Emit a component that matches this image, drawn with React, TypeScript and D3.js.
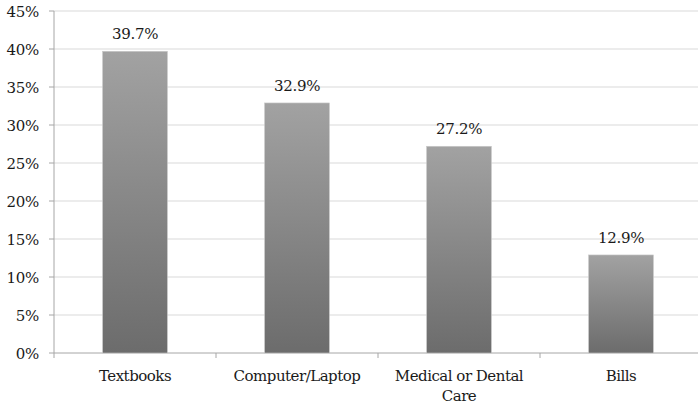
import React from "react";
import * as d3 from "d3";

const categories = ["Textbooks", "Computer/Laptop", "Medical or Dental Care", "Bills"];
const values = [39.7, 32.9, 27.2, 12.9];
const yTicks = [0, 5, 10, 15, 20, 25, 30, 35, 40, 45];
const categoryLines: Record<string, string[]> = {
  "Medical or Dental Care": ["Medical or Dental", "Care"],
};

const W = 698;
const H = 407;
const FONT = "'DejaVu Serif', serif";

export default function App() {
  const x = d3.scaleBand<string>().domain(categories).range([54, 702]).paddingInner(0).paddingOuter(0);
  const y = d3.scaleLinear().domain([0, 45]).range([353, 11]);
  const barW = x.bandwidth() * 0.4;
  const boundaries = d3.range(categories.length + 1).map((i) => 54 + i * x.bandwidth());

  return (
    <svg width={W} height={H} style={{ position: "absolute", left: 0, top: 0, background: "#fff" }}>
      <defs>
        <linearGradient id="barFill" x1="0" y1="0" x2="0" y2="1">
          <stop offset="0%" stopColor="#a2a2a2" />
          <stop offset="100%" stopColor="#6c6c6c" />
        </linearGradient>
      </defs>
      {yTicks.map((t) => (
        <g key={t}>
          {t > 0 && <line x1={54} x2={W} y1={y(t)} y2={y(t)} stroke="#d9d9d9" strokeWidth={1} />}
          <line x1={49} x2={54} y1={y(t)} y2={y(t)} stroke="#a6a6a6" strokeWidth={1} />
          <text x={39} y={y(t) + 5.5} textAnchor="end" fontFamily={FONT} fontSize={15} letterSpacing={-0.3} fill="#1a1a1a">
            {t}%
          </text>
        </g>
      ))}
      <line x1={54} x2={54} y1={y(45)} y2={y(0)} stroke="#a6a6a6" strokeWidth={1} />
      <line x1={54} x2={W} y1={y(0)} y2={y(0)} stroke="#a6a6a6" strokeWidth={1} />
      {boundaries.map((b, i) => (
        <line key={i} x1={b} x2={b} y1={y(0)} y2={y(0) + 5} stroke="#a6a6a6" strokeWidth={1} />
      ))}
      {categories.map((c, i) => {
        const cx = (x(c) as number) + x.bandwidth() / 2;
        const top = y(values[i]);
        const lines = categoryLines[c] ?? [c];
        return (
          <g key={c}>
            <rect
              x={cx - barW / 2}
              y={top}
              width={barW}
              height={y(0) - top}
              fill="url(#barFill)"
              stroke="#c8c8c8"
              strokeWidth={0.6}
            />
            <text x={cx} y={top - 12} textAnchor="middle" fontFamily={FONT} fontSize={15} letterSpacing={-0.3} fill="#1a1a1a">
              {values[i].toFixed(1)}%
            </text>
            {lines.map((l, j) => (
              <text key={j} x={cx} y={381 + j * 20} textAnchor="middle" fontFamily={FONT} fontSize={15} letterSpacing={-0.5} fill="#1a1a1a">
                {l}
              </text>
            ))}
          </g>
        );
      })}
    </svg>
  );
}
